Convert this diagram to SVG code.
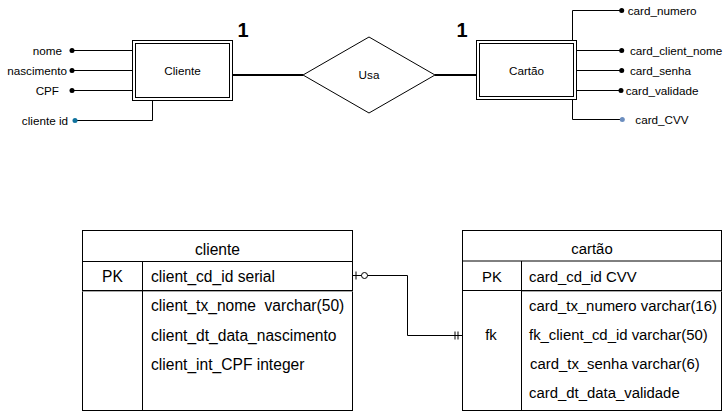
<svg xmlns="http://www.w3.org/2000/svg" width="726" height="412" viewBox="0 0 726 412">
<style>
  text { font-family: "Liberation Sans", Arial, sans-serif; fill: #000; }
  .lbl { font-size: 11.7px; }
  .mid { text-anchor: middle; }
  .end { text-anchor: end; }
  .one { font-size: 20px; font-weight: bold; text-anchor: middle; }
  .ln { fill: none; stroke: #000; stroke-width: 1; }
  .thick { fill: none; stroke: #000; stroke-width: 2; }
  .box { fill: #fff; stroke: #000; stroke-width: 1; }
  .dot { fill: #000; }
  .tc { font-size: 15.6px; }
  .tk { font-size: 14.9px; }
</style>
<rect width="726" height="412" fill="#fff"/>

<g id="connectors">
  <!-- Cliente attributes -->
  <path class="ln" d="M72,50.5 H132.5"/>
  <path class="ln" d="M72,70.5 H132.5"/>
  <path class="ln" d="M72,90.5 H132.5"/>
  <path class="ln" d="M152.5,100.5 V120.5 H75"/>
  <!-- Cartao attributes -->
  <path class="ln" d="M572.5,40.5 V10.5 H621.7"/>
  <path class="ln" d="M576.5,50.5 H621.7"/>
  <path class="ln" d="M576.5,70.5 H621.7"/>
  <path class="ln" d="M576.5,90.5 H621"/>
  <path class="ln" d="M572.5,99.5 V119.5 H622.3"/>
  <!-- Entity - relationship -->
  <path class="thick" d="M232.5,75 H303"/>
  <path class="thick" d="M435,75 H476.5"/>
  <!-- Table relationship -->
  <path class="ln" d="M352.5,275.5 H407.5 V335.5 H462.5"/>
  <path class="ln" d="M356,271.5 V279.5"/>
  <circle cx="364.5" cy="275.5" r="3" fill="#fff" stroke="#000" stroke-width="1"/>
  <path class="ln" d="M455,331.5 V339.5 M458,331.5 V339.5"/>
</g>

<g id="entity-cliente">
  <rect class="box" x="132.5" y="40.5" width="100" height="60"/>
  <rect class="box" x="135.5" y="43.5" width="94" height="54"/>
  <text class="lbl mid" x="182.5" y="74.8">Cliente</text>
</g>

<g id="entity-cartao">
  <rect class="box" x="476.5" y="40.5" width="100" height="59"/>
  <rect class="box" x="479.5" y="43.5" width="94" height="53"/>
  <text class="lbl mid" x="526.5" y="74.8">Cartão</text>
</g>

<g id="rel-usa">
  <polygon class="box" points="303,75 369,37 435,75 369,113"/>
  <text class="lbl mid" x="369" y="79.3">Usa</text>
</g>

<g id="card-cliente">
  <text class="one" x="243" y="36.7">1</text>
</g>
<g id="card-cartao">
  <text class="one" x="462" y="36.7">1</text>
</g>

<g id="attr-nome">
  <circle class="dot" cx="72" cy="50.5" r="2.5"/>
  <text class="lbl end" x="62" y="54.8">nome</text>
</g>
<g id="attr-nascimento">
  <circle class="dot" cx="72" cy="70.5" r="2.5"/>
  <text class="lbl end" x="67" y="74.8">nascimento</text>
</g>
<g id="attr-cpf">
  <circle class="dot" cx="72" cy="90.5" r="2.5"/>
  <text class="lbl end" x="59" y="94.8">CPF</text>
</g>
<g id="attr-cliente-id">
  <circle cx="75" cy="120.5" r="2.5" fill="#10739E"/>
  <text class="lbl end" x="68" y="124.8">cliente id</text>
</g>

<g id="attr-card-numero">
  <circle class="dot" cx="621.7" cy="10.5" r="2.5"/>
  <text class="lbl" x="627.7" y="14.8">card_numero</text>
</g>
<g id="attr-card-client-nome">
  <circle class="dot" cx="621.7" cy="50.5" r="2.5"/>
  <text class="lbl" x="630" y="54.8">card_client_nome</text>
</g>
<g id="attr-card-senha">
  <circle class="dot" cx="621.7" cy="70.5" r="2.5"/>
  <text class="lbl" x="630" y="74.8">card_senha</text>
</g>
<g id="attr-card-validade">
  <circle class="dot" cx="621" cy="90.5" r="2.5"/>
  <text class="lbl" x="625.7" y="94.8">card_validade</text>
</g>
<g id="attr-card-cvv">
  <circle cx="622.3" cy="119.5" r="2.5" fill="#6C8EBF"/>
  <text class="lbl" x="635.3" y="123.8">card_CVV</text>
</g>

<g id="table-cliente">
  <rect class="box" x="82.5" y="230.5" width="270" height="180"/>
  <path class="ln" d="M82.5,261.5 H352.5"/>
  <path class="ln" d="M82.5,290.5 H352.5"/>
  <path d="M82.5,291.5 H352.5" stroke="#aaa" stroke-width="1"/>
  <path class="ln" d="M142.5,261.5 V410.5"/>
  <text class="tc mid" x="217.5" y="254.5">cliente</text>
  <text class="tc mid" x="112.5" y="282">PK</text>
  <text class="tc" x="151" y="282">client_cd_id serial</text>
  <text class="tc" x="151" y="311" xml:space="preserve">client_tx_nome  varchar(50)</text>
  <text class="tc" x="151" y="340.5">client_dt_data_nascimento</text>
  <text class="tc" x="151" y="370">client_int_CPF integer</text>
</g>

<g id="table-cartao">
  <rect class="box" x="462.5" y="230.5" width="259" height="180"/>
  <path class="ln" d="M462.5,261 H721.5"/>
  <path class="ln" d="M462.5,290.5 H721.5"/>
  <path d="M521.5,291.5 H721.5" stroke="#aaa" stroke-width="1"/>
  <path class="ln" d="M521.5,261 V410.5"/>
  <text class="tk mid" x="592" y="253.5">cartão</text>
  <text class="tk mid" x="492" y="282">PK</text>
  <text class="tk" x="529" y="282">card_cd_id CVV</text>
  <text class="tk mid" x="491" y="340">fk</text>
  <text class="tk" x="529" y="311">card_tx_numero varchar(16)</text>
  <text class="tk" x="529" y="340">fk_client_cd_id varchar(50)</text>
  <text class="tk" x="530" y="369">card_tx_senha varchar(6)</text>
  <text class="tk" x="529" y="398">card_dt_data_validade</text>
</g>
</svg>
